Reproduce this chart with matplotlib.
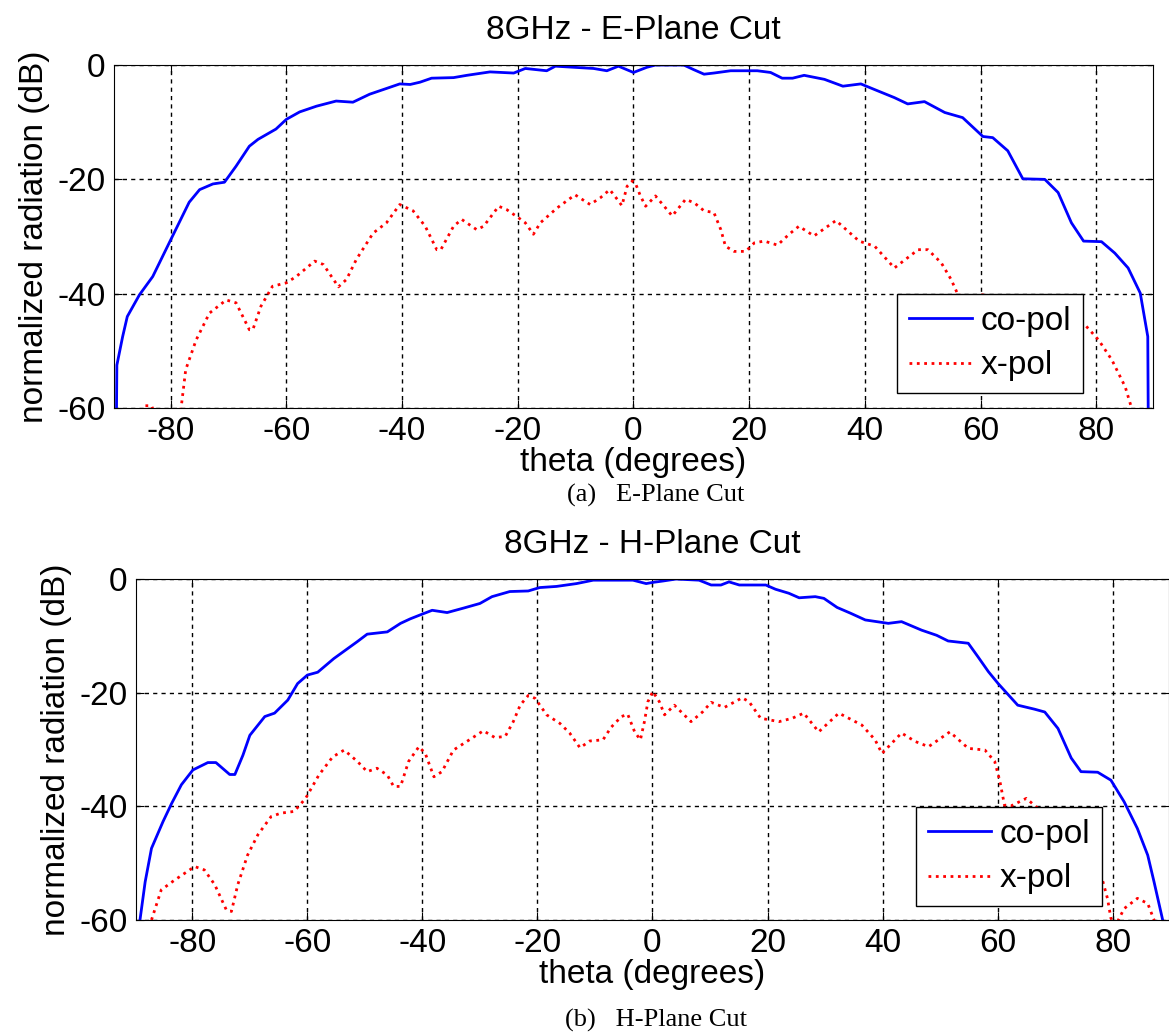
import numpy as np
import matplotlib
matplotlib.use("Agg")
import matplotlib.pyplot as plt

plt.rcParams['font.family'] = ['Liberation Sans', 'DejaVu Sans']
plt.rcParams['axes.unicode_minus'] = False

# E-plane cut, co-pol
e_theta_co = [-89.4, -89.3, -88.3, -87.5, -85.4, -83.1, -80.2, -76.8, -75.0, -72.7, -70.7, -68.7,
              -66.4, -64.9, -61.8, -60.0, -57.7, -54.8, -51.4, -48.5, -45.6, -42.7, -40.4, -38.6,
              -36.9, -34.9, -31.1, -28.8, -24.8, -20.7, -18.7, -15.0, -13.5, -6.9, -4.6, -2.6,
              0.0, 2.3, 3.8, 8.7, 10.4, 12.2, 13.9, 16.8, 21.4, 23.7, 25.7, 27.5, 29.5, 33.0,
              36.2, 39.3, 41.7, 45.1, 47.4, 50.3, 53.8, 56.9, 60.4, 62.1, 64.7, 67.3, 71.1, 73.4,
              75.7, 77.8, 80.9, 83.2, 85.5, 87.6, 88.9, 89.0]
e_co = [-65.0, -52.5, -47.5, -44.0, -40.2, -37.0, -31.0, -24.0, -21.8, -20.8, -20.5, -17.7,
        -14.2, -13.0, -11.2, -9.5, -8.2, -7.2, -6.3, -6.5, -5.1, -4.1, -3.3, -3.4,
        -3.0, -2.3, -2.2, -1.8, -1.2, -1.4, -0.6, -1.0, -0.2, -0.6, -1.0, -0.2,
        -1.3, -0.4, 0.0, 0.0, -0.8, -1.6, -1.4, -1.0, -1.0, -1.3, -2.3, -2.3, -1.8, -2.5,
        -3.7, -3.3, -4.3, -5.7, -6.8, -6.4, -8.3, -9.2, -12.5, -12.7, -15.0, -19.9, -20.0, -22.3,
        -27.6, -30.8, -30.9, -32.9, -35.5, -39.9, -47.5, -65.0]

# E-plane cut, x-pol
e_theta_x = [-86.0, -84.5, -83.3, -82.0, -80.0, -78.2, -77.4, -75.6, -73.3, -70.4, -68.7, -66.4,
             -65.8, -64.4, -62.4, -60.0, -58.3, -55.1, -53.6, -51.0, -49.6, -47.9, -45.0, -42.7,
             -40.4, -38.1, -36.0, -34.0, -33.3, -31.1, -29.7, -27.1, -25.9, -23.3, -21.9, -19.9,
             -18.7, -17.3, -16.1, -13.2, -10.1, -7.5, -5.7, -4.1, -2.8, -2.0, -1.1, -0.2, 0.3,
             1.2, 2.1, 3.8, 5.3, 6.7, 9.0, 10.5, 12.2, 13.9, 15.1, 15.9, 17.4, 19.4, 20.9, 22.6,
             24.9, 26.9, 28.6, 31.2, 35.0, 39.0, 41.7, 45.1, 49.2, 50.9, 53.2, 54.9, 56.1, 58.0,
             60.4, 62.0, 66.0, 70.0, 74.0, 78.0, 80.4, 82.7, 85.0, 86.1, 87.0]
e_x = [-63.0, -59.6, -59.6, -63.0, -66.0, -60.0, -53.3, -48.1, -43.4, -41.1, -41.6, -46.3,
       -46.3, -42.2, -38.7, -38.1, -37.0, -34.3, -34.9, -38.8, -37.5, -34.0, -29.4, -27.6,
       -24.4, -25.5, -28.2, -32.3, -32.3, -28.2, -27.0, -28.8, -28.2, -24.7, -25.3, -26.7,
       -27.6, -29.6, -27.6, -25.0, -22.7, -24.4, -23.2, -21.8, -23.5, -24.6, -21.2, -20.3, -20.6,
       -22.9, -24.7, -22.9, -24.7, -26.4, -23.5, -24.1, -25.5, -25.8, -28.8, -31.7, -32.6, -32.6, -31.1, -30.8,
       -31.5, -29.6, -28.2, -29.9, -27.2, -30.8, -31.7, -35.5, -32.3, -32.3, -34.6, -37.5, -40.2, -40.6,
       -40.2, -41.0, -42.0, -43.0, -44.0, -45.4, -48.1, -51.6, -56.3, -60.0, -63.0]

# H-plane cut, co-pol
h_theta_co = [-89.1, -88.2, -87.1, -85.1, -83.6, -81.9, -79.9, -77.3, -75.9, -73.5, -72.6, -71.2,
              -70.0, -67.4, -65.7, -63.4, -61.7, -60.0, -58.2, -55.4, -51.3, -49.6, -46.1, -43.8,
              -42.1, -40.1, -38.3, -35.7, -32.8, -30.0, -27.9, -24.8, -21.6, -19.6, -16.7, -13.2,
              -10.3, -3.4, -1.1, 0.0, 1.8, 4.1, 8.1, 10.2, 11.9, 13.3, 15.1, 19.7, 21.4, 23.7,
              25.5, 28.3, 29.8, 32.1, 34.4, 37.0, 41.0, 43.3, 46.8, 49.4, 51.4, 54.9, 56.6, 58.4,
              60.1, 63.5, 66.4, 68.2, 70.5, 72.8, 74.5, 77.4, 79.7, 82.0, 84.3, 86.1, 87.2, 88.7, 89.0]
h_co = [-60.0, -53.3, -47.4, -42.7, -39.5, -36.2, -33.6, -32.3, -32.3, -34.4, -34.4, -31.0,
        -27.5, -24.2, -23.6, -21.3, -18.4, -16.9, -16.4, -14.0, -11.0, -9.7, -9.3, -7.8,
        -7.0, -6.2, -5.5, -5.9, -5.1, -4.3, -3.1, -2.2, -2.1, -1.5, -1.3, -0.8,
        -0.2, -0.2, -0.8, -0.6, -0.35, 0.0, -0.2, -1.05, -1.05, -0.5, -1.05, -1.05, -1.8, -2.5,
        -3.3, -3.1, -3.4, -5.0, -6.0, -7.2, -7.8, -7.5, -9.0, -9.9, -10.9, -11.3, -13.7, -16.3,
        -18.4, -22.2, -22.9, -23.4, -26.3, -31.5, -33.9, -34.0, -35.4, -39.2, -43.9, -48.6, -53.3, -60.0, -65.0]

# H-plane cut, x-pol
h_theta_x = [-87.1, -85.4, -83.1, -79.6, -77.9, -76.1, -74.1, -73.2, -72.1, -70.4, -68.6, -66.3,
             -64.6, -62.3, -60.3, -58.0, -55.6, -53.6, -51.3, -49.6, -47.9, -46.1, -45.0, -43.8,
             -42.4, -40.6, -39.5, -38.0, -36.6, -34.6, -32.3, -29.4, -27.4, -25.6, -24.2, -23.0,
             -21.6, -20.4, -18.4, -16.1, -14.4, -12.6, -10.9, -8.6, -7.2, -5.4, -4.3, -3.1, -2.1,
             -1.4, -0.8, 0.05, 1.2, 2.1, 3.8, 6.7, 8.7, 10.2, 12.5, 15.6, 16.8, 18.8, 22.0, 24.3,
             26.3, 28.9, 32.4, 36.4, 38.7, 39.9, 43.3, 45.7, 48.0, 51.7, 54.9, 57.8, 59.5, 60.4,
             61.2, 62.4, 65.0, 66.7, 70.0, 74.0, 76.0, 78.0, 79.1, 79.7, 80.5, 82.0, 84.3, 86.1, 87.2, 88.0]
h_x = [-60.0, -54.7, -53.0, -50.6, -51.2, -53.8, -58.2, -58.5, -53.8, -48.6, -45.0, -41.8,
       -41.2, -40.9, -38.6, -34.5, -31.3, -30.1, -32.1, -33.9, -33.3, -34.5, -36.5, -36.5,
       -32.1, -29.5, -30.7, -34.8, -33.9, -30.1, -28.6, -26.7, -27.9, -27.7, -25.1, -22.2,
       -20.5, -21.0, -23.9, -25.4, -27.1, -29.7, -28.5, -28.3, -26.1, -24.2, -23.8, -26.9, -28.3,
       -25.1, -21.6, -19.8, -21.6, -23.9, -22.2, -25.1, -23.4, -21.7, -22.6, -20.9, -21.6, -24.5, -25.1, -24.5,
       -23.6, -26.9, -23.6, -25.7, -28.3, -30.7, -27.1, -28.6, -29.5, -26.9, -29.8, -30.1, -32.1, -35.6,
       -39.8, -39.9, -38.6, -40.1, -42.0, -46.0, -49.0, -52.1, -56.2, -59.7, -61.0, -58.0, -56.2, -57.1, -60.0, -63.0]

xticks = [-80, -60, -40, -20, 0, 20, 40, 60, 80]
yticks = [-60, -40, -20, 0]

fig = plt.figure(figsize=(11.69, 10.34), dpi=100)

def panel(rect, title, th_co, co, th_x, xp, leg_anchor):
    ax = fig.add_axes(rect)
    ax.plot(th_co, co, color='#0000ff', lw=2, label='co-pol')
    ax.plot(th_x, xp, color='#ff0000', lw=2, ls=':', label='x-pol')
    ax.set_xlim(-89.8, 89.8)
    ax.set_ylim(-60, 0)
    ax.set_xticks(xticks)
    ax.set_yticks(yticks)
    ax.grid(True, color='black', ls=(0, (3, 3)), lw=1.0)
    ax.tick_params(direction='in', top=True, right=True, length=6, labelsize=24, pad=6)
    ax.set_title(title, fontsize=24, pad=19)
    ax.set_xlabel('theta (degrees)', fontsize=24, labelpad=0)
    ax.set_ylabel('normalized radiation (dB)', fontsize=24, labelpad=5)
    leg = ax.legend(loc='lower right', bbox_to_anchor=leg_anchor, fontsize=24,
                    fancybox=False, framealpha=1, edgecolor='black',
                    handlelength=1.9, handletextpad=0.25, borderpad=0.35,
                    labelspacing=0.4, borderaxespad=0)
    leg.get_frame().set_linewidth(1.0)
    return ax

panel([0.0975, 0.6054, 0.8888, 0.3317], '8GHz - E-Plane Cut',
      e_theta_co, e_co, e_theta_x, e_x, (0.9326, 0.044))
panel([0.1163, 0.1103, 0.8837, 0.3297], '8GHz - H-Plane Cut',
      h_theta_co, h_co, h_theta_x, h_x, (0.935, 0.041))

fig.text(0.561, 0.5205, '(a)   E-Plane Cut', family='Liberation Serif', fontsize=19,
         ha='center', va='center')
fig.text(0.561, 0.0135, '(b)   H-Plane Cut', family='Liberation Serif', fontsize=19,
         ha='center', va='center')

fig.savefig('out.png', dpi=100)
